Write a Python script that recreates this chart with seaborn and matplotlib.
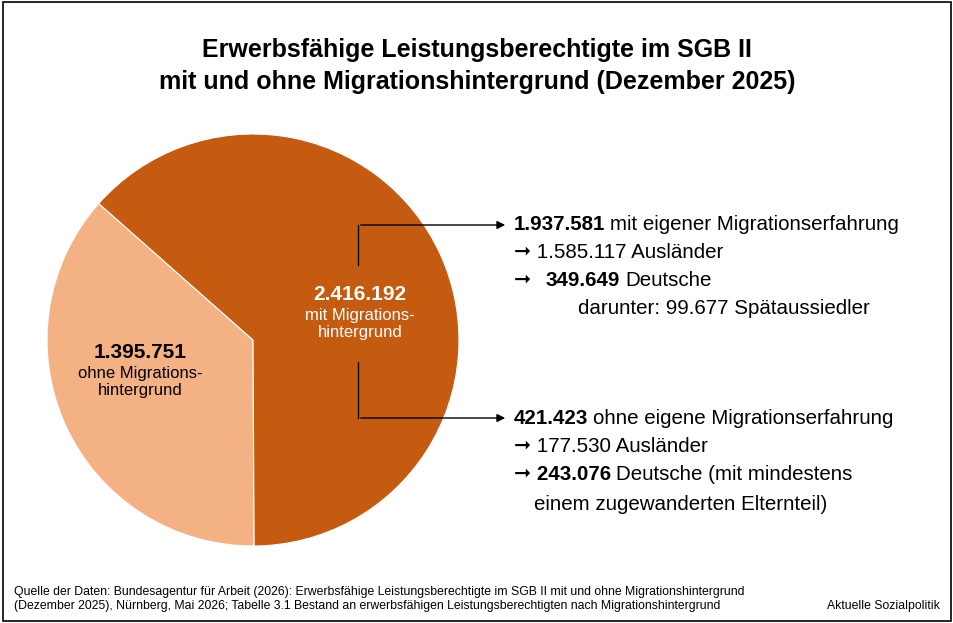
import matplotlib
matplotlib.use("Agg")
import matplotlib.pyplot as plt
import seaborn as sns
from matplotlib.patches import Rectangle, FancyArrowPatch

sns.set_theme(style="white")
plt.rcParams["font.family"] = ["Liberation Sans", "DejaVu Sans"]
plt.rcParams["text.color"] = "black"

labels = ["ohne Migrationshintergrund", "mit Migrationshintergrund"]
values = [1395751, 2416192]
colors = ["#F4B183", "#C55A11"]

W, H = 954, 623
fig = plt.figure(figsize=(W / 100, H / 100), dpi=100)


def px(x, y):
    return x / W, 1 - y / H


fig.patches.append(Rectangle((0.003, 0.003), 0.994, 0.994, transform=fig.transFigure,
                             fill=False, edgecolor="black", linewidth=1.2))

cx, cy, r = 253, 340, 206
ax = fig.add_axes([(cx - r) / W, 1 - (cy + r) / H, 2 * r / W, 2 * r / H])
ax.pie(values, colors=colors, startangle=138.5, counterclock=True,
       wedgeprops={"edgecolor": "white", "linewidth": 0.8})
ax.set_xlim(-1, 1)
ax.set_ylim(-1, 1)
ax.set_aspect("equal")

fig.text(*px(477, 50), "Erwerbsfähige Leistungsberechtigte im SGB II", ha="center", va="center",
         fontsize=18, fontweight="bold")
fig.text(*px(477, 82), "mit und ohne Migrationshintergrund (Dezember 2025)", ha="center", va="center",
         fontsize=18, fontweight="bold")

fig.text(*px(360, 294), "2.416.192", ha="center", va="center", color="white", fontsize=15, fontweight="bold")
fig.text(*px(360, 324), "mit Migrations-\nhintergrund", ha="center", va="center", color="white",
         fontsize=12, linespacing=1.1)
fig.text(*px(140, 352), "1.395.751", ha="center", va="center", fontsize=15, fontweight="bold")
fig.text(*px(140, 382), "ohne Migrations-\nhintergrund", ha="center", va="center",
         fontsize=12, linespacing=1.1)

# connectors
for y0, y1 in ((225, 265), (362, 418)):
    fig.add_artist(plt.Line2D([358 / W, 358 / W], [1 - y0 / H, 1 - y1 / H], transform=fig.transFigure,
                              color="black", lw=1))
for yy in (225, 418):
    fig.patches.append(FancyArrowPatch(px(358, yy), px(508, yy), transform=fig.transFigure,
                                       arrowstyle="-|>", mutation_scale=12, color="black", lw=1))

fs = 14.8


def line(x, y, bold, rest):
    t = fig.text(*px(x, y), bold, ha="left", va="center", fontsize=fs, fontweight="bold")
    if rest:
        fig.canvas.draw()
        bb = t.get_window_extent()
        fig.text(bb.x1 / W + 0.005, 1 - y / H, rest, ha="left", va="center", fontsize=fs)


line(514, 224, "1.937.581", "mit eigener Migrationserfahrung")
fig.text(*px(514, 252), "➞ 1.585.117 Ausländer", ha="left", va="center", fontsize=fs)
fig.text(*px(514, 280), "➞", ha="left", va="center", fontsize=fs)
line(546, 280, "349.649", "Deutsche")
fig.text(*px(578, 308), "darunter: 99.677 Spätaussiedler", ha="left", va="center", fontsize=fs)

line(514, 418, "421.423", "ohne eigene Migrationserfahrung")
fig.text(*px(514, 447), "➞ 177.530 Ausländer", ha="left", va="center", fontsize=fs)
line(514, 475, "➞ 243.076", "Deutsche (mit mindestens")
fig.text(*px(534, 504), "einem zugewanderten Elternteil)", ha="left", va="center", fontsize=fs)

fig.text(*px(14, 599), "Quelle der Daten: Bundesagentur für Arbeit (2026): Erwerbsfähige Leistungsberechtigte im SGB II mit und ohne Migrationshintergrund\n"
         "(Dezember 2025), Nürnberg, Mai 2026; Tabelle 3.1 Bestand an erwerbsfähigen Leistungsberechtigten nach Migrationshintergrund",
         ha="left", va="center", fontsize=8.8, linespacing=1.3)
fig.text(*px(940, 606), "Aktuelle Sozialpolitik", ha="right", va="center", fontsize=8.8)

fig.savefig("out.png", dpi=100)
